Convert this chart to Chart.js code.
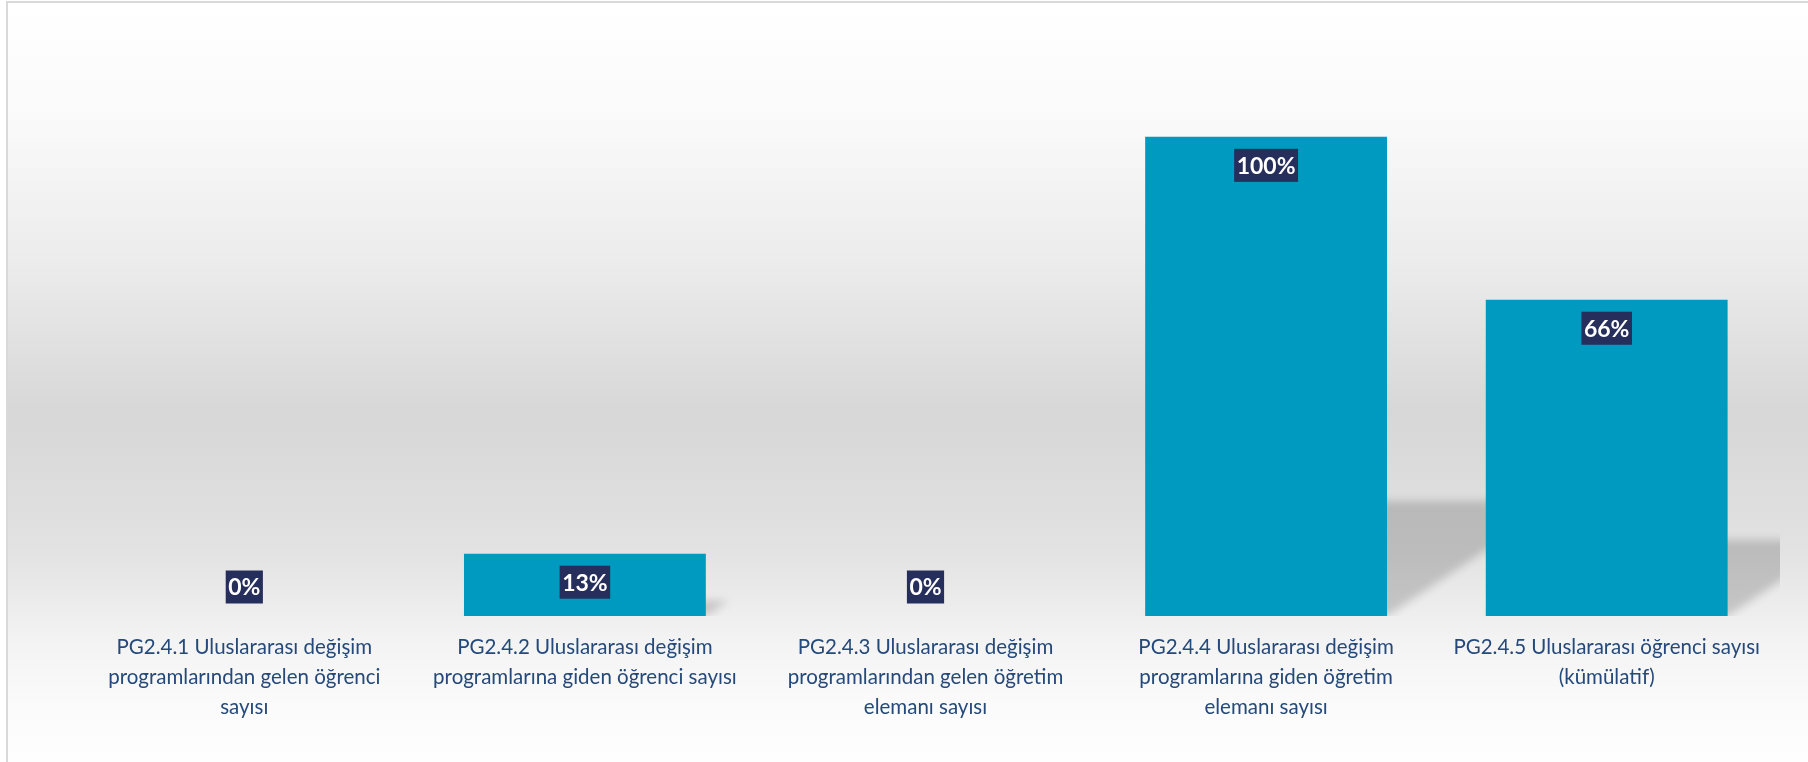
<!DOCTYPE html>
<html>
<head>
<meta charset="utf-8">
<script src="https://cdn.jsdelivr.net/npm/chart.js@4"></script>
<style>
  html, body { margin: 0; padding: 0; background: #fff; }
  #wrap { width: 1808px; height: 762px; position: relative; }
</style>
</head>
<body>
<div id="wrap"><canvas id="barChart"></canvas></div>
<script>
// Categories (multi-line, as wrapped in the original)
const categories = [
    ['PG2.4.1 Uluslararası değişim', 'programlarından gelen öğrenci', 'sayısı'],
    ['PG2.4.2 Uluslararası değişim', 'programlarına giden öğrenci sayısı'],
    ['PG2.4.3 Uluslararası değişim', 'programlarından gelen öğretim', 'elemanı sayısı'],
    ['PG2.4.4 Uluslararası değişim', 'programlarına giden öğretim', 'elemanı sayısı'],
    ['PG2.4.5 Uluslararası öğrenci sayısı', '(kümülatif)'],
];
// Percent values
const values = [0, 13, 0, 100, 66];

// background fill + frame lines
const backgroundPlugin = {
    id: 'bg',
    beforeDraw(chart) {
        const c = chart.ctx;
        const w = chart.width, h = chart.height;
        c.save();
        c.fillStyle = '#ffffff';
        c.fillRect(0, 0, w, h);
        const g = c.createLinearGradient(0, 3, 0, h);
        g.addColorStop(0, '#ffffff');
        g.addColorStop(0.15, '#fafafa');
        g.addColorStop(0.35, '#ebebeb');
        g.addColorStop(0.54, '#d7d7d7');
        g.addColorStop(0.72, '#e2e2e2');
        g.addColorStop(0.84, '#f3f3f3');
        g.addColorStop(0.93, '#fbfbfb');
        g.addColorStop(1, '#fefefe');
        c.fillStyle = g;
        c.fillRect(8, 3, w - 8, h - 3);
        c.strokeStyle = '#d9d9d9';
        c.lineWidth = 2;
        c.beginPath();
        c.moveTo(7, h);
        c.lineTo(7, 2);
        c.lineTo(w, 2);
        c.stroke();
        c.restore();
    }
};

// perspective shadow behind each bar
const shadowPlugin = {
    id: 'barShadow',
    beforeDatasetsDraw(chart) {
        const c = chart.ctx;
        const area = chart.chartArea;
        const meta = chart.getDatasetMeta(0);
        c.save();
        c.beginPath();
        c.rect(area.left, area.top, area.right - area.left + 3, area.bottom - area.top);
        c.clip();
        c.fillStyle = 'rgba(0, 0, 0, 0.17)';
        c.filter = 'blur(4px)';
        meta.data.forEach(bar => {
            const p = bar.getProps(['x', 'y', 'base', 'width'], true);
            const hgt = p.base - p.y;
            if (hgt <= 0) return;
            const rise = hgt * 0.24;
            const shift = rise * 1.5;
            const l = p.x - p.width / 2, r = p.x + p.width / 2;
            c.beginPath();
            c.moveTo(l, p.base);
            c.lineTo(r, p.base);
            c.lineTo(r + shift, p.base - rise);
            c.lineTo(l + shift, p.base - rise);
            c.closePath();
            c.fill();
        });
        c.restore();
    }
};

// navy boxed value labels
const labelPlugin = {
    id: 'boxLabels',
    afterDatasetsDraw(chart) {
        const c = chart.ctx;
        const meta = chart.getDatasetMeta(0);
        c.save();
        c.font = 'bold 23px Lato';
        c.textAlign = 'center';
        c.textBaseline = 'middle';
        meta.data.forEach((bar, i) => {
            const p = bar.getProps(['x', 'y', 'base'], true);
            const txt = values[i] + '%';
            const cy = Math.min(p.y + 28.5, p.base - 29);
            const tw = c.measureText(txt).width + 5;
            c.fillStyle = '#262e5c';
            c.fillRect(p.x - tw / 2, cy - 16.5, tw, 33);
            c.fillStyle = '#ffffff';
            c.fillText(txt, p.x, cy + 1);
        });
        c.restore();
    }
};

const ctx = document.getElementById('barChart').getContext('2d');
const barChart = new Chart(ctx, {
    type: 'bar',
    data: {
        labels: categories,
        datasets: [{
            data: values,
            backgroundColor: '#0099bf',
            borderWidth: 0,
            categoryPercentage: 1,
            barPercentage: 0.71,
        }],
    },
    options: {
        responsive: true,
        maintainAspectRatio: false,
        animation: false,
        layout: {
            padding: { left: 74, right: 31, top: 41, bottom: 24 },
        },
        plugins: {
            legend: { display: false },
            tooltip: { enabled: false },
        },
        scales: {
            x: {
                grid: { display: false, drawTicks: false },
                border: { display: false },
                ticks: {
                    color: '#24497a',
                    font: { family: 'Lato', size: 20.5, lineHeight: '30px' },
                    padding: 16,
                    maxRotation: 0,
                    autoSkip: false,
                },
            },
            y: {
                display: false,
                min: 0,
                max: 120,
            },
        },
    },
    plugins: [backgroundPlugin, shadowPlugin, labelPlugin],
});
</script>
</body>
</html>
